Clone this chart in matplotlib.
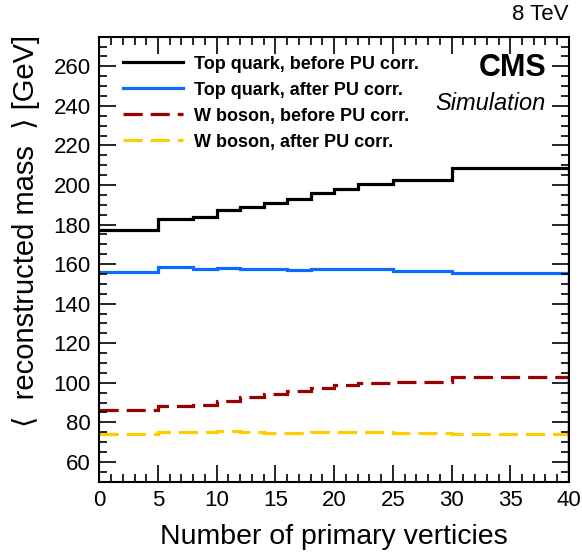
import matplotlib
matplotlib.use("Agg")
import matplotlib.pyplot as plt
from matplotlib.ticker import MultipleLocator

# bin edges in number of primary vertices
edges = [0, 5, 8, 10, 12, 14, 16, 18, 20, 22, 25, 30, 40]

top_before = [177.5, 182.8, 184.0, 187.2, 189.1, 191.1, 193.0, 195.9, 197.9, 200.7, 202.7, 208.8]
top_after = [156.2, 158.6, 157.7, 157.9, 157.5, 157.7, 157.0, 157.5, 157.5, 157.3, 156.7, 155.5]
w_before = [86.0, 88.3, 89.0, 90.9, 92.7, 94.3, 95.8, 97.2, 98.7, 99.7, 100.5, 102.9]
w_after = [74.3, 75.1, 75.3, 75.5, 75.3, 74.6, 74.8, 75.0, 75.3, 75.0, 74.5, 74.0]

labels = ["Top quark, before PU corr.", "Top quark, after PU corr.",
          "W boson, before PU corr.", "W boson, after PU corr."]
colors = ["#000000", "#0a6cff", "#990000", "#ffcc00"]

FONT = ["Liberation Sans", "DejaVu Sans"]
plt.rcParams["font.family"] = FONT

fig = plt.figure(figsize=(5.82, 5.53), dpi=100)
ax = fig.add_axes([0.1706, 0.129, 0.807, 0.8046])

series = [top_before, top_after, w_before, w_after]
styles = ["-", "-", (0, (6, 2.5)), (0, (6, 2.5))]
for vals, c, ls, lab in zip(series, colors, styles, labels):
    ax.stairs(vals, edges, baseline=None, color=c, lw=2.3, ls=ls, label=lab)
    # ROOT-style closing edge at the last bin
    ax.vlines(edges[-1], 0, vals[-1], color=c, lw=2.3, ls=ls)

ax.set_xlim(0, 40)
ax.set_ylim(50, 275)
ax.xaxis.set_major_locator(MultipleLocator(5))
ax.xaxis.set_minor_locator(MultipleLocator(1))
ax.yaxis.set_major_locator(MultipleLocator(20))
ax.yaxis.set_minor_locator(MultipleLocator(5))
ax.tick_params(which="both", direction="in", top=True, right=True,
               width=1.2, labelsize=16)
ax.tick_params(which="major", length=12, pad=6)
ax.tick_params(which="minor", length=6)
ax.set_yticks(range(60, 261, 20))
for s in ax.spines.values():
    s.set_linewidth(1.5)

leg = ax.legend(loc="upper left", bbox_to_anchor=(0.032, 0.978), frameon=False,
                handlelength=3.28, handletextpad=0.65, labelspacing=0.5,
                borderpad=0, prop={"weight": "bold", "size": 13})

fig.text(569 / 582, 1 - 15 / 553, "8 TeV", ha="right", va="center", fontsize=16)
fig.text(546 / 582, 1 - 68 / 553, "CMS", ha="right", va="center",
         fontsize=22, weight="bold")
fig.text(546 / 582, 1 - 103 / 553, "Simulation", ha="right", va="center",
         fontsize=17, style="italic")

fig.text(508 / 582, 1 - 537 / 553, "Number of primary verticies", ha="right",
         va="center", fontsize=20.5)
fig.text(26 / 582, 1 - 35 / 553, "\u27e8  reconstructed mass  \u27e9 [GeV]",
         ha="center", va="top", rotation=90, fontsize=21)

fig.savefig("out.png", dpi=100)
